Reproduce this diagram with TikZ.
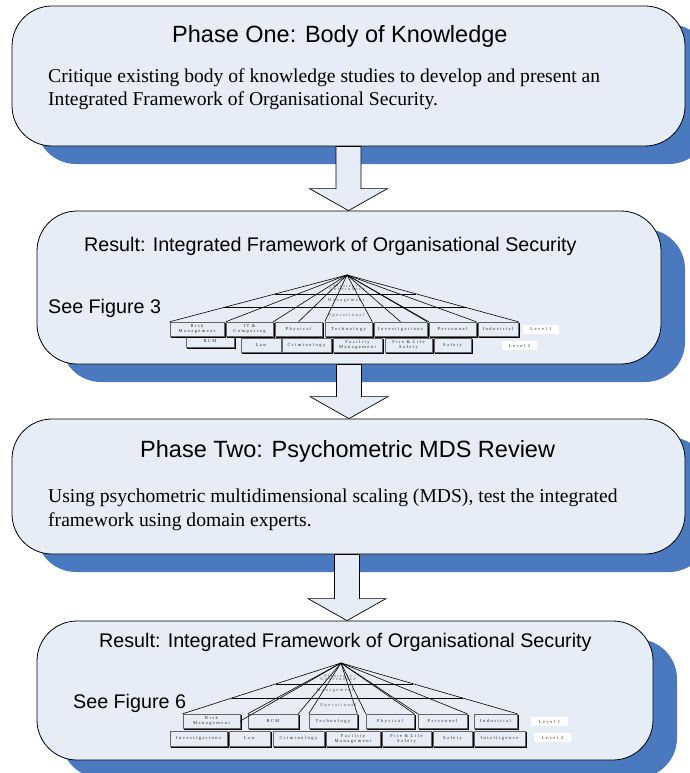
\documentclass[tikz,border=0pt]{standalone}
\usepackage{fontspec}
\setmainfont{Liberation Serif}
\newfontfamily\arialf{Liberation Sans}
\newfontfamily\tinyf[LetterSpace=33]{Liberation Serif}
\usetikzlibrary{shadows,calc}
\definecolor{boxfill}{HTML}{E6EDF7}
\definecolor{shadowc}{HTML}{4A79C0}
\tikzset{
 bigbox/.style={draw=black, line width=0.8pt, fill=boxfill, rounded corners=40pt, inner sep=0pt,
   general shadow={fill=shadowc, shadow xshift=24pt, shadow yshift=-18pt}},
 blockarr/.style={draw=black, line width=0.7pt, fill=boxfill, line join=miter},
 ttl/.style={font=\arialf\fontsize{23.5}{26}\selectfont, anchor=base west, inner sep=0pt},
 rtl/.style={font=\arialf\fontsize{19.7}{22}\selectfont, anchor=base west, inner sep=0pt},
 bod/.style={font=\fontsize{19.6}{22}\selectfont, anchor=base west, inner sep=0pt},
 lvbox/.style={draw=black!60, line width=0.5pt, fill=boxfill, inner sep=0pt, align=center,
   font=\tinyf\fontsize{4.5}{5}\selectfont, text=black!85,
   general shadow={draw=black, line width=0.6pt, fill=boxfill, shadow xshift=1.5pt, shadow yshift=-1.5pt}},
 lvlab/.style={fill=white, inner sep=0pt, font=\tinyf\fontsize{4.6}{5}\selectfont, text=black!80},
 fanline/.style={draw=black, line width=0.6pt},
 fantext/.style={font=\tinyf\fontsize{4.5}{5}\selectfont, text=black!65, inner sep=0pt, align=center}
}
\newcommand\lbox[6]{\node[lvbox, minimum width={#4-#2}, minimum height={#5-#3}] (#1) at ({(#2+#4)/2},{(#3+#5)/2}) {#6};}
\begin{document}
\begin{tikzpicture}[x=1pt,y=-1pt]
\useasboundingbox (0,0) rectangle (690,773);
% big boxes
\node[bigbox, minimum width=673, minimum height=140] (b1) at (348.5,76) {};
\node[bigbox, minimum width=624, minimum height=153] (b2) at (349,287.5) {};
\node[bigbox, minimum width=673, minimum height=135] (b3) at (348.5,486.5) {};
\node[bigbox, minimum width=616, minimum height=139] (b4) at (345,690.5) {};
% block arrows
\coordinate (a1s) at (b1.south); \coordinate (a1t) at (b2.north -| b1.south);
\coordinate (a2s) at (b2.south); \coordinate (a2t) at (b3.north -| b2.south);
\coordinate (a3s) at ($(b3.south)+(-1.5,0)$); \coordinate (a3t) at (b4.north -| a3s);
\foreach \s/\t in {a1s/a1t, a2s/a2t, a3s/a3t}{
  \draw[blockarr] ($(\s)+(-12.5,0)$) -- ($(\t)+(-12.5,-22)$) -- ($(\t)+(-39,-22)$) -- (\t)
    -- ($(\t)+(39,-22)$) -- ($(\t)+(12.5,-22)$) -- ($(\s)+(12.5,0)$) -- cycle;
}
% texts
\node[ttl] (t1) at (172,42.5) {Phase One: Body of Knowledge};
\node[bod] (d1a) at (48,83) {Critique existing body of knowledge studies to develop and present an};
\node[bod] (d1b) at (48,106) {Integrated Framework of Organisational Security.};
\node[rtl] (t2) at (84,251.5) {Result: Integrated Framework of Organisational Security};
\node[rtl] (s2) at (48,313) {See Figure 3};
\node[ttl] (t3) at (140,457) {Phase Two: Psychometric MDS Review};
\node[bod] (d3a) at (48,502.5) {Using psychometric multidimensional scaling (MDS), test the integrated};
\node[bod] (d3b) at (48,526) {framework using domain experts.};
\node[rtl] (t4) at (99,647) {Result: Integrated Framework of Organisational Security};
\node[rtl] (s4) at (73,708) {See Figure 6};
% ---------- Figure 3 ----------
\lbox{rcm3}{186}{336}{234}{347}{RCM}
\lbox{law3}{241}{338}{281}{352}{Law}
\lbox{crim3}{282}{338}{331}{352}{Criminology}
\lbox{fac3}{333}{338}{382}{352}{Facility\\Management}
\lbox{fire3}{385}{338}{432}{352}{Fire \& Life\\Safety}
\lbox{saf3}{434}{338}{471}{352}{Safety}
\lbox{risk3}{170}{322}{224}{336}{Risk\\Management}
\lbox{it3}{226}{322}{273}{336}{IT \&\\Computing}
\lbox{phys3}{275}{322}{322}{336}{Physical}
\lbox{tech3}{325}{322}{372}{336}{Technology}
\lbox{inv3}{374}{322}{427}{336}{Investigations}
\lbox{pers3}{429}{322}{476}{336}{Personnel}
\lbox{ind3}{478}{322}{518}{336}{Industrial}
\node[lvlab, minimum width=36, minimum height=9] (lv31) at (541,329) {Level 1};
\node[lvlab, minimum width=35, minimum height=9] (lv32) at (519.5,345.5) {Level 2};
\coordinate (ap3) at (347,275);
\node[fantext] (sg3) at (347,287.5) {Strategic\\[-1.2pt]Governance};
\node[fantext] (mg3) at (346,301) {Management};
\node[fantext] (op3) at (346,315) {Operational};
\foreach \t in {risk3.north west, it3.north west, it3.north east, phys3.north, tech3.north west,
  tech3.north east, inv3.north, inv3.north east, pers3.north west, pers3.north east, ind3.north east}
  \draw[fanline] (ap3) -- (\t);
\draw[fanline] ($(ap3)!0.404!(risk3.north west)$) -- ($(ap3)!0.404!(ind3.north east)$);
\draw[fanline] ($(ap3)!0.70!(risk3.north west)$) -- ($(ap3)!0.70!(ind3.north east)$);
% ---------- Figure 6 ----------
\lbox{inv6}{170}{731}{227}{746}{Investigations}
\lbox{law6}{229}{731}{270}{746}{Law}
\lbox{crim6}{273}{731}{324}{746}{Criminology}
\lbox{fac6}{326}{731}{380}{746}{Facility\\Management}
\lbox{fire6}{382}{731}{431}{746}{Fire \& Life\\Safety}
\lbox{saf6}{433}{731}{472}{746}{Safety}
\lbox{int6}{474}{731}{525}{746}{Intelligence}
\lbox{risk6}{183}{714}{240}{728}{Risk\\Management}
\lbox{bcm6}{248}{714}{298}{728}{BCM}
\lbox{tech6}{309}{714}{357}{728}{Technology}
\lbox{phys6}{366}{714}{414}{728}{Physical}
\lbox{pers6}{418}{714}{467}{728}{Personnel}
\lbox{ind6}{474}{714}{517}{728}{Industrial}
\node[lvlab, minimum width=37, minimum height=9] (lv61) at (549.5,721.5) {Level 1};
\node[lvlab, minimum width=37, minimum height=9] (lv62) at (552.5,737.5) {Level 2};
\coordinate (ap6) at (341,663);
\node[fantext] (sg6) at (338,677.5) {Strategic\\[-1.2pt]Governance};
\node[fantext] (mg6) at (335,691) {Management};
\node[fantext] (op6) at (338,705) {Operational};
\foreach \t in {risk6.north west, risk6.east, bcm6.north west, bcm6.north east, tech6.north west,
  tech6.north east, phys6.north west, phys6.north east, pers6.north west, pers6.north east, ind6.north east}
  \draw[fanline] (ap6) -- (\t);
\draw[fanline] ($(ap6)!0.41!(risk6.north west)$) -- ($(ap6)!0.41!(ind6.north east)$);
\draw[fanline] ($(ap6)!0.69!(risk6.north west)$) -- ($(ap6)!0.69!(ind6.north east)$);
\end{tikzpicture}
\end{document}
